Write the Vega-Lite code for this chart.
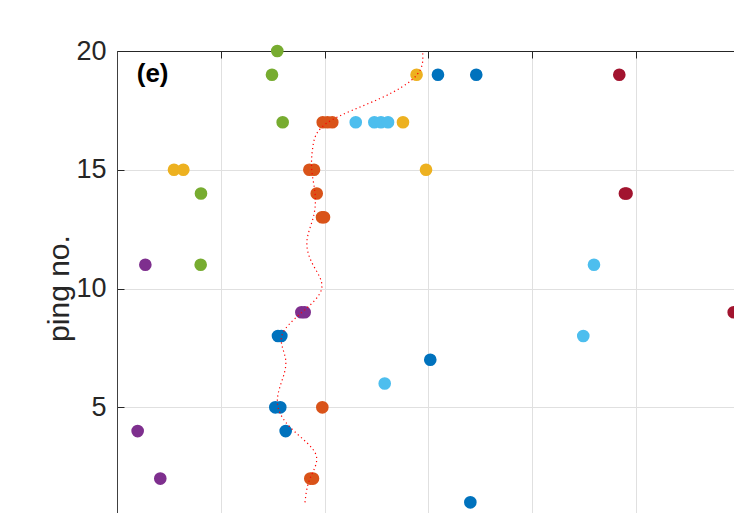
{
  "$schema": "https://vega.github.io/schema/vega-lite/v6.json",
  "width": 617,
  "height": 462,
  "autosize": {"type": "none"},
  "padding": {"left": 117, "top": 51, "right": 0, "bottom": 0},
  "background": "white",
  "config": {
    "view": {"stroke": null},
    "font": "Liberation Sans"
  },
  "datasets": {
    "pings": [
      {"ping": 20, "x": 1.544, "cluster": "5"},
      {"ping": 19, "x": 1.493, "cluster": "5"},
      {"ping": 19, "x": 2.886, "cluster": "3"},
      {"ping": 19, "x": 3.092, "cluster": "1"},
      {"ping": 19, "x": 3.461, "cluster": "1"},
      {"ping": 19, "x": 4.839, "cluster": "7"},
      {"ping": 17, "x": 1.596, "cluster": "5"},
      {"ping": 17, "x": 1.982, "cluster": "2"},
      {"ping": 17, "x": 2.028, "cluster": "2"},
      {"ping": 17, "x": 2.074, "cluster": "2"},
      {"ping": 17, "x": 2.300, "cluster": "6"},
      {"ping": 17, "x": 2.479, "cluster": "6"},
      {"ping": 17, "x": 2.543, "cluster": "6"},
      {"ping": 17, "x": 2.611, "cluster": "6"},
      {"ping": 17, "x": 2.755, "cluster": "3"},
      {"ping": 15, "x": 0.549, "cluster": "3"},
      {"ping": 15, "x": 0.639, "cluster": "3"},
      {"ping": 15, "x": 1.853, "cluster": "2"},
      {"ping": 15, "x": 1.898, "cluster": "2"},
      {"ping": 15, "x": 2.977, "cluster": "3"},
      {"ping": 14, "x": 0.809, "cluster": "5"},
      {"ping": 14, "x": 1.924, "cluster": "2"},
      {"ping": 14, "x": 4.893, "cluster": "7"},
      {"ping": 14, "x": 4.909, "cluster": "7"},
      {"ping": 13, "x": 1.975, "cluster": "2"},
      {"ping": 13, "x": 1.994, "cluster": "2"},
      {"ping": 11, "x": 0.273, "cluster": "4"},
      {"ping": 11, "x": 0.806, "cluster": "5"},
      {"ping": 11, "x": 4.595, "cluster": "6"},
      {"ping": 9, "x": 1.776, "cluster": "4"},
      {"ping": 9, "x": 1.808, "cluster": "4"},
      {"ping": 9, "x": 5.941, "cluster": "7"},
      {"ping": 8, "x": 1.551, "cluster": "1"},
      {"ping": 8, "x": 1.583, "cluster": "1"},
      {"ping": 8, "x": 4.492, "cluster": "6"},
      {"ping": 7, "x": 3.018, "cluster": "1"},
      {"ping": 6, "x": 2.579, "cluster": "6"},
      {"ping": 5, "x": 1.525, "cluster": "1"},
      {"ping": 5, "x": 1.573, "cluster": "1"},
      {"ping": 5, "x": 1.978, "cluster": "2"},
      {"ping": 4, "x": 0.199, "cluster": "4"},
      {"ping": 4, "x": 1.625, "cluster": "1"},
      {"ping": 2, "x": 0.417, "cluster": "4"},
      {"ping": 2, "x": 1.862, "cluster": "2"},
      {"ping": 2, "x": 1.888, "cluster": "2"},
      {"ping": 1, "x": 3.404, "cluster": "1"}
    ],
    "track": [
      {"ping": 1, "x": 1.811},
      {"ping": 2, "x": 1.859},
      {"ping": 3, "x": 1.917},
      {"ping": 4, "x": 1.705},
      {"ping": 5, "x": 1.551},
      {"ping": 6, "x": 1.580},
      {"ping": 7, "x": 1.625},
      {"ping": 8, "x": 1.587},
      {"ping": 9, "x": 1.782},
      {"ping": 10, "x": 1.972},
      {"ping": 11, "x": 1.888},
      {"ping": 12, "x": 1.830},
      {"ping": 13, "x": 1.891},
      {"ping": 14, "x": 1.908},
      {"ping": 15, "x": 1.876},
      {"ping": 16, "x": 1.888},
      {"ping": 17, "x": 2.033},
      {"ping": 18, "x": 2.534},
      {"ping": 19, "x": 2.890},
      {"ping": 19.9, "x": 2.945}
    ]
  },
  "layer": [
    {
      "data": {"name": "pings"},
      "mark": {"type": "circle", "size": 160, "opacity": 1},
      "encoding": {
        "x": {
          "field": "x",
          "type": "quantitative",
          "scale": {"domain": [0, 5.944], "nice": false, "zero": false},
          "axis": {
            "orient": "top",
            "values": [0, 1, 2, 3, 4, 5],
            "labels": false,
            "title": null,
            "ticks": true,
            "tickSize": -7,
            "tickColor": "#262626",
            "domainColor": "#262626",
            "domainWidth": 1,
            "grid": true,
            "gridColor": "#e0e0e0",
            "gridWidth": 1
          }
        },
        "y": {
          "field": "ping",
          "type": "quantitative",
          "scale": {"domain": [0.55, 20], "nice": false, "zero": false},
          "axis": {
            "orient": "left",
            "values": [5, 10, 15, 20],
            "tickSize": -7,
            "tickColor": "#262626",
            "domainColor": "#404040",
            "domainWidth": 1,
            "labelPadding": 18,
            "labelFontSize": 27,
            "labelColor": "#262626",
            "labelFont": "Liberation Sans",
            "grid": true,
            "gridColor": "#e0e0e0",
            "gridWidth": 1,
            "title": "ping no.",
            "titleFont": "Liberation Sans",
            "titleFontSize": 30,
            "titleFontWeight": "normal",
            "titleColor": "#262626",
            "titleAngle": 270,
            "titleAlign": "center",
            "titleBaseline": "middle",
            "titleX": -58,
            "titleY": 237
          }
        },
        "color": {
          "field": "cluster",
          "type": "nominal",
          "scale": {
            "domain": ["1", "2", "3", "4", "5", "6", "7"],
            "range": ["#0072BD", "#D95319", "#EDB120", "#7E2F8E", "#77AC30", "#4DBEEE", "#A2142F"]
          },
          "legend": null
        }
      }
    },
    {
      "data": {"name": "track"},
      "mark": {"type": "line", "interpolate": "natural", "color": "#ff0000", "strokeWidth": 1.2, "strokeDash": [1.2, 3]},
      "encoding": {
        "x": {"field": "x", "type": "quantitative"},
        "y": {"field": "ping", "type": "quantitative"},
        "order": {"field": "ping", "type": "quantitative"}
      }
    },
    {
      "data": {"values": [{"tag": "(e)"}]},
      "mark": {"type": "text", "font": "Liberation Sans", "fontWeight": "bold", "fontSize": 26, "align": "left", "baseline": "middle", "color": "#000000"},
      "encoding": {
        "x": {"datum": 0.19},
        "y": {"datum": 19.05},
        "text": {"field": "tag"}
      }
    }
  ]
}
